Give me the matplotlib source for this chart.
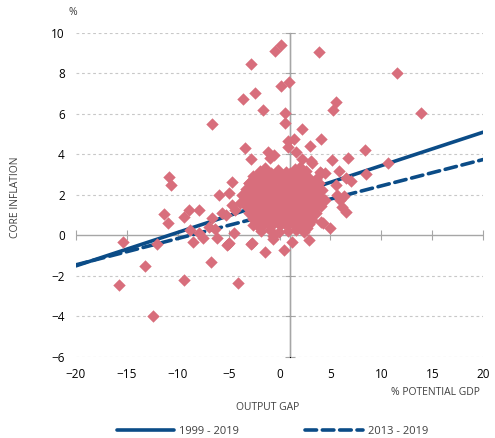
import matplotlib
matplotlib.use('Agg')
import matplotlib.pyplot as plt

plt.rcParams['font.family'] = ['Open Sans', 'DejaVu Sans']

# scattered observations (output gap, core inflation)
outer_gap = [0.17, -0.4, 3.9, -2.8, 0.95, 0.17, -2.4, -3.6, -1.6, 0.5, -6.6, 0.5, 2.2,
             11.5, 13.9, 5.5, 5.25, 4.1, 3.0, 8.4, 6.7, 5.2, 3.1, 10.7, 8.5, 4.1, 6.5, 7.0,
             5.5, 6.3, 5.9, 6.1, 6.5, 5.0, 4.3, 2.9, 1.2, -0.6, -2.8, -1.4, 0.4,
             -10.9, -10.65, -5.9, -11.35, -11.0, -9.4, -8.9, -7.9, -6.65, -8.75, -8.5, -7.9,
             -7.5, -6.95, -6.35, -6.1, -12.0, -15.4, -13.2, -15.8, -9.4, -12.4, -6.7, -4.1,
             -5.05, -5.7,
             0.8, 1.4, 0.8, -3.4, -1.15, -0.5, -0.9, -2.8, 1.6, 2.2, -1.45, 4.0, -2.6, -4.7,
             -4.95, -4.4, -3.9, -2.8, -2.6, -4.5, -5.2, -2.7,
             3.2, 2.0, 4.5, 5.8, -3.05, 5.6, -4.7, -5.3, 4.1, 3.3, -5.0, 2.7, -0.6]
outer_infl = [9.42, 9.1, 9.05, 8.47, 7.57, 7.39, 7.04, 6.73, 6.19, 6.05, 5.5, 5.56, 5.28,
              8.04, 6.05, 6.6, 6.19, 4.78, 4.43, 4.2, 3.83, 3.75, 3.67, 3.58, 3.03, 3.08, 2.84, 2.69,
              2.48, 1.96, 1.75, 1.43, 1.18, 0.37, 0.62, -0.22, -0.3, -0.19, -0.42, -0.8, -0.72,
              2.88, 2.49, 2.0, 1.06, 0.6, 0.93, 1.25, 1.25, 0.85, 0.27, -0.33, 0.14,
              -0.14, 0.4, 0.3, -0.14, -0.42, -0.33, -1.5, -2.44, -2.2, -4.0, -1.3, -2.34,
              -0.43, 1.1,
              4.66, 4.78, 4.38, 4.33, 4.14, 3.96, 3.85, 3.8, 4.12, 3.76, 3.33, 3.15, 2.95, 2.64,
              2.1, 1.26, 1.6, 1.1, 0.52, 0.1, -0.47, -0.38,
              3.6, 3.4, 3.08, 3.16, 2.6, 2.0, 1.5, 1.0, 0.68, 1.0, -0.38, 0.37, -0.05]

# dense core of the cloud
core_gap = [-1.9, -0.2, 0.6, 1.5, 2.6,
            -2.3, -1.2, -0.4, 0.3, 1.1, 1.9, 2.8, 3.6,
            -3.0, -2.1, -1.5, -0.7, 0.1, 0.8, 1.4, 2.2, 3.0, 3.9,
            -3.3, -2.6, -1.9, -1.1, -0.4, 0.4, 1.0, 1.7, 2.5, 3.3, 4.2,
            -3.7, -2.9, -2.3, -1.6, -0.9, -0.2, 0.5, 1.2, 1.9, 2.6, 3.4, 4.0,
            -3.5, -2.8, -2.0, -1.3, -0.6, 0.1, 0.8, 1.5, 2.3, 3.0, 3.8, 4.5,
            -3.2, -2.5, -1.8, -1.0, -0.3, 0.4, 1.1, 1.8, 2.6, 3.3, 4.1,
            -3.0, -2.2, -1.4, -0.7, 0.0, 0.7, 1.4, 2.1, 2.9, 3.6,
            -2.6, -1.9, -1.1, -0.4, 0.3, 1.0, 1.7, 2.4, 3.2,
            -2.2, -1.5, -0.8, 0.0, 0.7, 1.5, 2.2, 2.9,
            -1.8, -0.9, -0.1, 0.8, 1.6, 2.4]
core_infl = [3.2, 3.25, 3.15, 3.3, 3.2,
             2.9, 2.95, 2.85, 2.9, 3.0, 2.85, 2.9, 2.8,
             2.6, 2.65, 2.55, 2.6, 2.65, 2.55, 2.6, 2.65, 2.55, 2.6,
             2.3, 2.25, 2.35, 2.3, 2.25, 2.35, 2.3, 2.25, 2.35, 2.3, 2.25,
             2.0, 2.05, 1.95, 2.0, 2.05, 1.95, 2.0, 2.05, 1.95, 2.0, 2.05, 1.95,
             1.7, 1.65, 1.75, 1.7, 1.65, 1.75, 1.7, 1.65, 1.75, 1.7, 1.65, 1.75,
             1.4, 1.45, 1.35, 1.4, 1.45, 1.35, 1.4, 1.45, 1.35, 1.4, 1.45,
             1.1, 1.05, 1.15, 1.1, 1.05, 1.15, 1.1, 1.05, 1.15, 1.1,
             0.8, 0.85, 0.75, 0.8, 0.85, 0.75, 0.8, 0.85, 0.75,
             0.5, 0.55, 0.45, 0.5, 0.55, 0.45, 0.5, 0.55,
             0.2, 0.25, 0.15, 0.2, 0.25, 0.15]

# in-between observations that fill the core
fill_gap = [-1.5, -0.8, 0.2, 1.0, 2.0,
            -2.6, -1.8, -0.8, -0.1, 0.7, 1.5, 2.4, 3.2,
            -2.9, -2.2, -1.5, -0.7, 0.1, 0.8, 1.6, 2.3, 3.0, 3.7,
            -3.3, -2.6, -1.9, -1.2, -0.5, 0.3, 0.9, 1.6, 2.2, 2.9, 3.7,
            -3.1, -2.4, -1.6, -0.9, -0.2, 0.5, 1.2, 1.9, 2.7, 3.4, 4.2,
            -2.8, -2.0, -1.3, -0.6, 0.1, 0.8, 1.5, 2.2, 2.9, 3.7,
            -2.3, -1.6, -0.9, -0.1, 0.6, 1.3, 2.0, 2.7, 3.4,
            -1.9, -1.1, -0.4, 0.4, 1.1, 1.9, 2.6,
            -1.3, -0.5, 0.4, 1.2, 2.0]
fill_infl = [3.05, 3.1, 3.0, 3.1, 3.05,
             2.75, 2.75, 2.7, 2.8, 2.75, 2.7, 2.75, 2.65,
             2.45, 2.45, 2.4, 2.5, 2.45, 2.4, 2.5, 2.45, 2.4, 2.45,
             2.15, 2.15, 2.2, 2.1, 2.15, 2.2, 2.1, 2.15, 2.2, 2.15, 2.1,
             1.85, 1.85, 1.9, 1.8, 1.85, 1.9, 1.8, 1.85, 1.9, 1.85, 1.8,
             1.55, 1.55, 1.6, 1.5, 1.55, 1.6, 1.5, 1.55, 1.6, 1.55,
             1.25, 1.25, 1.3, 1.2, 1.25, 1.3, 1.2, 1.25, 1.3,
             0.95, 0.95, 0.9, 1.0, 0.95, 0.9, 0.95,
             0.65, 0.65, 0.6, 0.7, 0.65]

# fitted lines
trend_x = [-20, 20]
trend_9919 = [-1.5, 5.1]
trend_1319 = [-1.45, 3.75]

x_ticks = [-20, -15, -10, -5, 0, 5, 10, 15, 20]
y_ticks = [-6, -4, -2, 0, 2, 4, 6, 8, 10]

navy = '#0B4C87'
pink = '#D86E7C'
grey = '#A6A6A6'
txt = '#404040'

fig = plt.figure(figsize=(4.95, 4.38), dpi=100)
ax = fig.add_axes([0.1535, 0.185, 0.8225, 0.7397])

for yt in y_ticks:
    if yt != 0:
        ax.axhline(yt, color='#C8C8C8', lw=0.8, ls=(0, (2.5, 2.5)), zorder=0)
ax.axhline(0, color=grey, lw=1.0, zorder=1)
ax.axvline(1, color=grey, lw=1.0, zorder=1)

ax.plot(trend_x, trend_9919, color=navy, lw=2.6, solid_capstyle='round',
        label='1999 - 2019', zorder=2)
ax.plot(trend_x, trend_1319, color=navy, lw=2.6, ls=(0, (3.2, 1.6)),
        dash_capstyle='round', label='2013 - 2019', zorder=2)

ax.scatter(core_gap + fill_gap + outer_gap, core_infl + fill_infl + outer_infl,
           marker='D', s=40, color=pink, linewidths=0, zorder=3)

ax.set_xlim(-20, 20)
ax.set_ylim(-6, 10)
ax.set_xticks(x_ticks)
ax.set_yticks(y_ticks)
ax.tick_params(length=0, labelsize=8.5, colors='black', pad=8)
for s in ax.spines.values():
    s.set_visible(False)

# tick marks on the crossing axes
sx = ax.secondary_xaxis(6 / 16)
sx.set_xticks(x_ticks)
sx.set_xticklabels([])
sx.tick_params(direction='inout', length=7, color=grey)
sx.spines['bottom'].set_visible(False)
sy = ax.secondary_yaxis(21 / 40)
sy.set_yticks(y_ticks)
sy.set_yticklabels([])
sy.tick_params(direction='inout', length=7, color=grey)
sy.spines['left'].set_visible(False)

fig.text(0.54, 0.07, 'OUTPUT GAP', ha='center', va='center', fontsize=7.5, color=txt)
fig.text(0.97, 0.105, '% POTENTIAL GDP', ha='right', va='center', fontsize=7.5, color=txt)
fig.text(0.148, 0.972, '%', ha='center', va='center', fontsize=7.5, color=txt)
fig.text(0.032, 0.55, 'CORE INFLATION', ha='center', va='center', rotation=90,
         fontsize=7.5, color=txt)

fig.legend(loc='center', bbox_to_anchor=(0.55, 0.015), ncol=2, frameon=False,
           fontsize=8, handlelength=5.2, columnspacing=6, handletextpad=0.4,
           labelcolor=txt)

fig.savefig('out.png', dpi=100)
